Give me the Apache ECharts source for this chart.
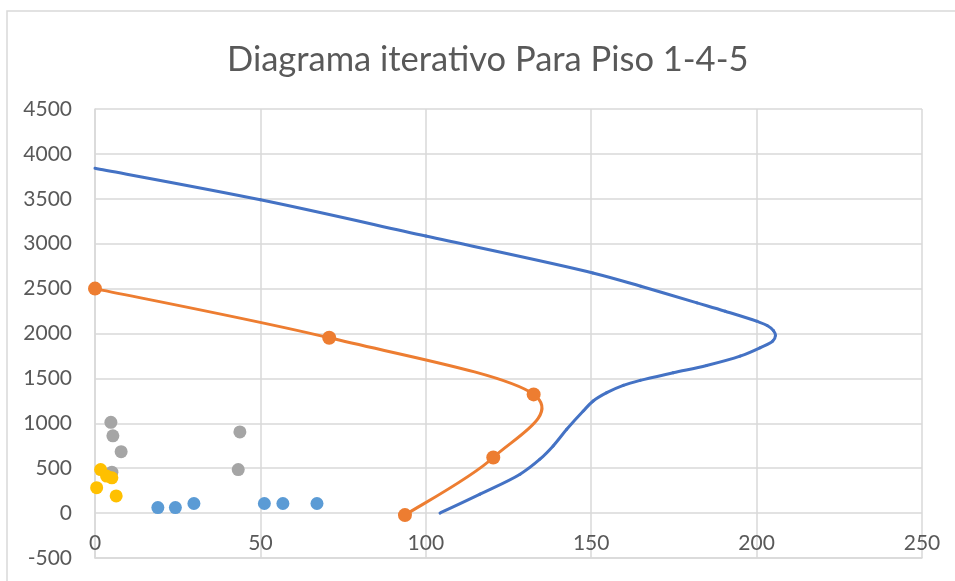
<!DOCTYPE html>
<html>
<head>
<meta charset="utf-8">
<script src="https://cdn.jsdelivr.net/npm/echarts@6/dist/echarts.min.js"></script>
<style>
  html, body { margin: 0; padding: 0; background: #ffffff; }
  #chart { width: 955px; height: 581px; }
</style>
</head>
<body>
<div id="chart"></div>
<script>
// Interaction diagram curves (axial load vs. moment)
const title = 'Diagrama iterativo Para Piso 1-4-5';

// Outer curve, traced along its length (no markers)
const curveOuterX = [104.3, 116.4, 128.5, 134.5, 138.5, 142.6, 147.6, 150.6, 154.7, 159.7, 164.8, 174.8, 184.9, 195, 201, 204.9, 205.7, 205.1, 203.2, 200, 190.5, 182, 165, 150.5, 100, 50, 0];
const curveOuterY = [0, 211, 433, 600, 748, 933, 1137, 1248, 1341, 1422, 1478, 1563, 1644, 1748, 1841, 1917, 1978, 2033, 2089, 2137, 2248, 2341, 2526, 2674, 3085, 3489, 3840];

// Computed points of the inner curve (drawn with markers)
const curveInnerX = [0, 70.8, 132.6, 120.4, 93.7];
const curveInnerY = [2500, 1952, 1322, 619, -22];

// Load points
const grayX = [4.8, 5.4, 7.9, 5.1, 43.8, 43.3];
const grayY = [1011, 860, 684, 456, 904, 485];

const yellowX = [1.7, 3.5, 5.1, 0.5, 6.4];
const yellowY = [485, 412, 393, 283, 191];

const lightX = [19.0, 24.3, 29.9, 51.2, 56.8, 67.1];
const lightY = [62, 62, 107, 107, 107, 107];

// Axis settings
const xMin = 0, xMax = 250, xStep = 50;
const yMin = -500, yMax = 4500, yStep = 500;

const zip = (xs, ys) => xs.map((x, i) => [x, ys[i]]);

const gridColor = '#d9d9d9';
const textColor = '#595959';
const font = 'Lato, "Open Sans", sans-serif';

// Catmull-Rom spline through the points, as cubic Bezier segments.
// alpha = 0 gives the uniform form (tangent (next - prev) / 6 per side),
// alpha = 0.5 the centripetal form for unevenly spaced points.
function smoothCurve(xs, ys, color, alpha) {
  const dist = (a, b) => Math.pow(Math.hypot(b[0] - a[0], b[1] - a[1]), alpha);
  return function (params, api) {
    const P = xs.map((x, i) => api.coord([x, ys[i]]));
    const n = P.length;
    const children = [];
    for (let i = 0; i < n - 1; i++) {
      const p1 = P[i], p2 = P[i + 1];
      const d2 = dist(p1, p2);
      let c1, c2;
      if (i > 0) {
        const p0 = P[i - 1];
        const d1 = dist(p0, p1);
        const k = 3 * d1 * (d1 + d2);
        const m = 2 * d1 * d1 + 3 * d1 * d2 + d2 * d2;
        c1 = [0, 1].map(j => (d1 * d1 * p2[j] - d2 * d2 * p0[j] + m * p1[j]) / k);
      } else {
        c1 = [0, 1].map(j => p1[j] + (p2[j] - p1[j]) / 6);
      }
      if (i + 2 < n) {
        const p3 = P[i + 2];
        const d3 = dist(p2, p3);
        const k = 3 * d3 * (d3 + d2);
        const m = 2 * d3 * d3 + 3 * d3 * d2 + d2 * d2;
        c2 = [0, 1].map(j => (d3 * d3 * p1[j] - d2 * d2 * p3[j] + m * p2[j]) / k);
      } else {
        c2 = [0, 1].map(j => p2[j] - (p2[j] - p1[j]) / 6);
      }
      children.push({
        type: 'bezierCurve',
        shape: {
          x1: p1[0], y1: p1[1], x2: p2[0], y2: p2[1],
          cpx1: c1[0], cpy1: c1[1], cpx2: c2[0], cpy2: c2[1]
        },
        style: { stroke: color, lineWidth: 3, fill: null, lineCap: 'round', lineJoin: 'round' }
      });
    }
    return { type: 'group', children };
  };
}

const chart = echarts.init(document.getElementById('chart'));
chart.setOption({
  animation: false,
  backgroundColor: '#ffffff',
  title: {
    text: title,
    left: 222,
    top: 37,
    textStyle: { fontFamily: font, fontSize: 34.5, fontWeight: 'normal', color: textColor }
  },
  graphic: [{
    type: 'rect',
    shape: { x: 7, y: 11, width: 1000, height: 1000 },
    style: { fill: 'none', stroke: gridColor, lineWidth: 1.5 },
    silent: true
  }],
  grid: { left: 95, right: 33, top: 109, bottom: 23, containLabel: false, outerBoundsMode: 'none' },
  xAxis: {
    type: 'value',
    min: xMin, max: xMax, interval: xStep,
    axisLine: { show: true, onZero: false, lineStyle: { color: gridColor, width: 1.5 } },
    axisTick: { show: false },
    splitLine: { show: true, lineStyle: { color: gridColor, width: 1.5 } },
    axisLabel: {
      inside: true, margin: 4,
      color: textColor, fontFamily: font, fontSize: 21,
      showMinLabel: true, showMaxLabel: true
    }
  },
  yAxis: {
    type: 'value',
    min: yMin, max: yMax, interval: yStep,
    axisLine: { show: true, lineStyle: { color: gridColor, width: 1.5 } },
    axisTick: { show: false },
    splitLine: { show: true, lineStyle: { color: gridColor, width: 1.5 } },
    axisLabel: {
      color: textColor, fontFamily: font, fontSize: 21, margin: 23,
      formatter: (v) => String(v)
    }
  },
  series: [
    {
      type: 'custom',
      coordinateSystem: 'cartesian2d',
      data: zip(curveOuterX, curveOuterY).slice(0, 1),
      renderItem: smoothCurve(curveOuterX, curveOuterY, '#4472C4', 0.5),
      silent: true,
      z: 2
    },
    {
      type: 'custom',
      coordinateSystem: 'cartesian2d',
      data: zip(curveInnerX, curveInnerY).slice(0, 1),
      renderItem: smoothCurve(curveInnerX, curveInnerY, '#ED7D31', 0),
      silent: true,
      z: 3
    },
    {
      type: 'scatter',
      data: zip(curveInnerX, curveInnerY),
      symbolSize: 14,
      itemStyle: { color: '#ED7D31', opacity: 1 },
      z: 4
    },
    {
      type: 'scatter',
      data: zip(grayX, grayY),
      symbolSize: 13,
      itemStyle: { color: '#A5A5A5', opacity: 1 },
      z: 5
    },
    {
      type: 'scatter',
      data: zip(yellowX, yellowY),
      symbolSize: 13,
      itemStyle: { color: '#FFC000', opacity: 1 },
      z: 6
    },
    {
      type: 'scatter',
      data: zip(lightX, lightY),
      symbolSize: 13,
      itemStyle: { color: '#5B9BD5', opacity: 1 },
      z: 7
    }
  ]
});
</script>
</body>
</html>
